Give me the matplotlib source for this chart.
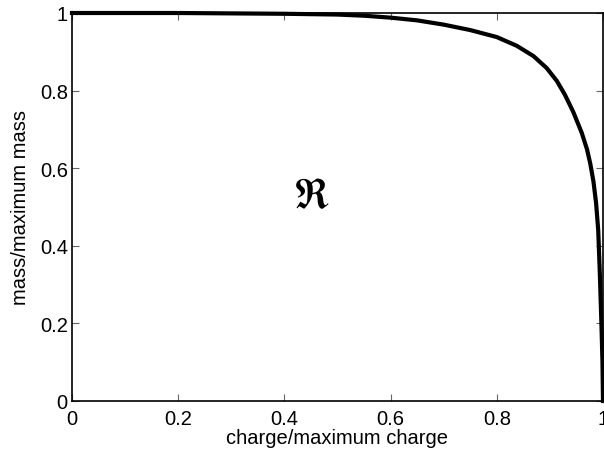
import matplotlib
matplotlib.use("Agg")
import matplotlib.pyplot as plt

plt.rcParams['font.family'] = ['Liberation Sans', 'DejaVu Sans']
plt.rcParams['mathtext.fontset'] = 'stix'

charge = [0.0, 0.1, 0.2, 0.3, 0.4, 0.45, 0.5, 0.55, 0.6, 0.65, 0.7, 0.75,
          0.8, 0.8375, 0.869, 0.894, 0.913, 0.928, 0.944, 0.96, 0.97,
          0.976, 0.982, 0.987, 0.991, 0.994, 0.997, 0.999, 1.0]
mass = [1.0, 1.0, 1.0, 0.999, 0.998, 0.997, 0.996, 0.993, 0.988, 0.981, 0.970, 0.956,
        0.938, 0.9155, 0.889, 0.858, 0.825, 0.790, 0.745, 0.691, 0.648,
        0.612, 0.566, 0.510, 0.440, 0.330, 0.2, 0.1, 0.0]
xticks = [0, 0.2, 0.4, 0.6, 0.8, 1]
yticks = [0, 0.2, 0.4, 0.6, 0.8, 1]
xtick_labels = ['0', '0.2', '0.4', '0.6', '0.8', '1']
ytick_labels = ['0', '0.2', '0.4', '0.6', '0.8', '1']

fig = plt.figure(figsize=(6.04, 4.52), dpi=100)
ax = fig.add_axes([72/604, 50/452, 531/604, 388/452])
ax.plot(charge, mass, color='black', lw=3, clip_on=False, solid_joinstyle='round')
ax.set_xlim(0, 1)
ax.set_ylim(0, 1)
ax.set_xticks(xticks)
ax.set_xticklabels(xtick_labels)
ax.set_yticks(yticks)
ax.set_yticklabels(ytick_labels)
ax.tick_params(direction='in', length=5, width=0.8, color='#666666',
               top=True, right=True, labelsize=14.5)
ax.tick_params(axis='y', pad=3)
ax.tick_params(axis='x', pad=6)
for s in ax.spines.values():
    s.set_linewidth(1.2)
    s.set_color('black')
ax.set_xlabel('charge/maximum charge', fontsize=14.5, labelpad=0)
ax.set_ylabel('mass/maximum mass', fontsize=14.5, labelpad=7)
ax.text(0.45, 0.528, r'$\mathfrak{R}$', fontsize=30, ha='center', va='center')
fig.savefig('out.png', dpi=100)
